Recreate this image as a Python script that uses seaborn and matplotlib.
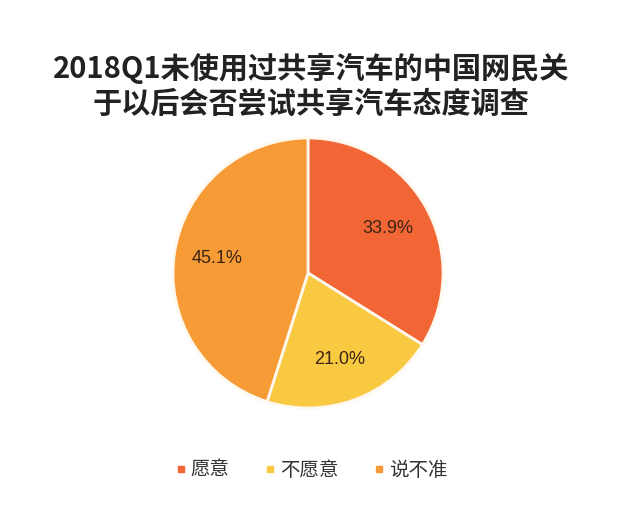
import matplotlib
matplotlib.use('Agg')
import matplotlib.pyplot as plt
import seaborn as sns
import numpy as np

labels = ['愿意', '不愿意', '说不准']
values = [33.9, 21.0, 45.1]
colors = ['#F26535', '#F9C941', '#F79B36']
title = '2018Q1未使用过共享汽车的中国网民关\n于以后会否尝试共享汽车态度调查'

sns.set_theme(style='white')
plt.rcParams['font.family'] = ['Noto Sans CJK SC', 'DejaVu Sans']

fig = plt.figure(figsize=(6.4, 5.09), dpi=100)
fig.patch.set_facecolor('white')

# pie axes: centre ~ (308, 273) px, radius ~135 px
cx, cy, r = 308, 273, 135
ax = fig.add_axes([(cx - r) / 640, 1 - (cy + r) / 509, 2 * r / 640, 2 * r / 509])
wedges, texts = ax.pie(values, colors=colors, startangle=90, counterclock=False,
                       wedgeprops=dict(edgecolor='#FFF8EE', linewidth=2))
ax.set_xlim(-1, 1)
ax.set_ylim(-1, 1)
ax.set_aspect('equal')

for w, v in zip(wedges, values):
    ang = np.deg2rad((w.theta1 + w.theta2) / 2)
    ax.text(0.68 * np.cos(ang), 0.68 * np.sin(ang), f'{v:.1f}%',
            ha='center', va='center', fontsize=13, color='#3a2414',
            family=['Liberation Sans', 'DejaVu Sans'])

fig.text(0.486, 1 - 86 / 509, title, ha='center', va='center', fontsize=21,
         fontweight='bold', color='#222222', linespacing=1.2)

handles = [plt.Line2D([0], [0], marker='s', linestyle='', markersize=5,
                      markerfacecolor=c, markeredgecolor=c) for c in colors]
fig.legend(handles, labels, loc='center', bbox_to_anchor=(0.485, 1 - 470 / 509),
           ncol=3, frameon=False, fontsize=14, labelcolor='#333333',
           handletextpad=0.1, columnspacing=1.7, handlelength=0.8)

fig.savefig('out.png', dpi=100, facecolor='white')
